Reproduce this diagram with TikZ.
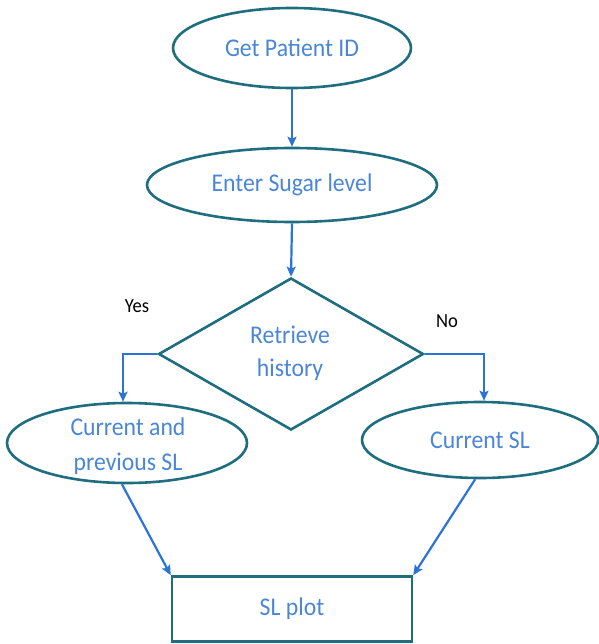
\documentclass[tikz,border=0pt]{standalone}
\usepackage{fontspec}
\setmainfont{Carlito}[FakeStretch=0.93]
\usetikzlibrary{shapes.geometric,arrows.meta}
\definecolor{outl}{HTML}{1F6E7F}
\definecolor{txtb}{HTML}{4A86D8}
\definecolor{arrb}{HTML}{2B74D6}
\tikzset{
  shapeline/.style={draw=outl, line width=2.6pt, text=txtb, inner sep=0pt, font=\fontsize{25.5}{32}\selectfont, align=center},
  ell/.style={shapeline, ellipse},
  conn/.style={draw=arrb, line width=2.2pt, -{Stealth[length=10pt,width=9pt,inset=2pt]}},
  lbl/.style={text=black, font=\fontsize{20}{22}\selectfont}
}
\begin{document}
\begin{tikzpicture}[x=1pt,y=-1pt]
\useasboundingbox (0,0) rectangle (598,644);
\node[ell, minimum width=238pt, minimum height=80pt] (a) at (292,48) {Get Patient ID};
\node[ell, minimum width=290pt, minimum height=74pt] (b) at (292,185) {Enter Sugar level};
\node[shapeline, diamond, minimum width=265pt, minimum height=152pt, aspect=1.74] (d) at (291,354) {};
\node[text=txtb, font=\fontsize{25.5}{33}\selectfont, align=center] (dt) at (290,353) {Retrieve\\history};
\node[ell, minimum width=240pt, minimum height=80pt] (l) at (127,443) {};
\node[text=txtb, font=\fontsize{25.5}{35}\selectfont, align=center] (lt) at (128,446) {Current and\\previous SL};
\node[ell, minimum width=236pt, minimum height=76pt] (r) at (480,440) {Current SL};
\node[shapeline, rectangle, minimum width=240pt, minimum height=65pt] (p) at (292,609) {SL plot};
\node[lbl] (yes) at (137,306) {Yes};
\node[lbl] (no) at (447,321) {No};
\draw[conn] (a.south) -- (b.north);
\draw[conn] (b.south) -- (d.north);
\draw[conn] (d.west) -| ([xshift=-4pt]l.north);
\draw[conn] (d.east) -| ([xshift=4pt]r.north);
\draw[conn] (l.-97) -- (p.north west);
\draw[conn] (r.-97) -- (p.north east);
\end{tikzpicture}
\end{document}
